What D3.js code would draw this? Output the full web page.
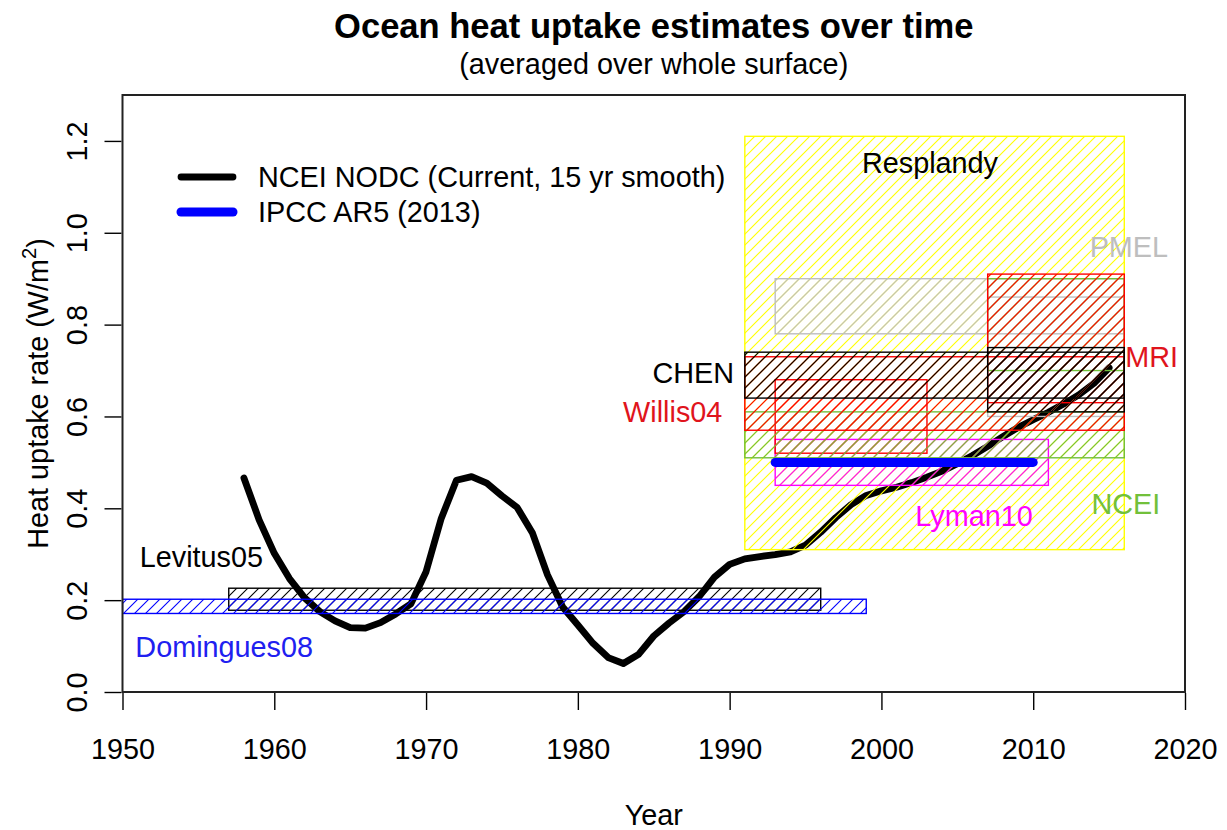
<!DOCTYPE html>
<html>
<head>
<meta charset="utf-8">
<script src="https://cdn.jsdelivr.net/npm/d3@7"></script>
<style>
  html, body { margin: 0; padding: 0; background: #fff; }
  svg { display: block; font-family: "Liberation Sans", Arial, Helvetica, sans-serif; }
</style>
</head>
<body>
<svg id="chart" width="1227" height="830"></svg>
<script>
// ---------------- data ----------------
const curveYears = [1958,1959,1960,1961,1962,1963,1964,1965,1966,1967,1968,1969,1970,1971,1972,1973,1974,1975,1976,1977,1978,1979,1980,1981,1982,1983,1984,1985,1986,1987,1988,1989,1990,1991,1992,1993,1994,1995,1996,1997,1998,1999,2000,2001,2002,2003,2004,2005,2006,2007,2008,2009,2010,2011,2012,2013,2014,2015];
const curveValues = [0.466,0.375,0.302,0.247,0.205,0.175,0.155,0.140,0.139,0.151,0.170,0.192,0.262,0.378,0.461,0.469,0.455,0.427,0.402,0.347,0.255,0.185,0.146,0.106,0.075,0.062,0.082,0.122,0.150,0.175,0.208,0.250,0.278,0.290,0.295,0.299,0.305,0.320,0.348,0.380,0.408,0.428,0.438,0.446,0.456,0.468,0.481,0.497,0.515,0.535,0.556,0.576,0.593,0.609,0.627,0.647,0.672,0.706];

// estimate boxes (drawn in this order)
const boxNames  = ["Resplandy","PMEL","PMEL","Lyman10","Willis04","NCEI","NCEI","MRI","MRI","CHEN","CHEN","Levitus05","Domingues08"];
const boxStart  = [1991,1993,2007,1993,1993,1991,2007,1991,2007,1991,2007,1957,1950];
const boxEnd    = [2016,2016,2016,2011,2003,2016,2016,2016,2016,2016,2016,1996,1999];
const boxLow    = [0.31,0.78,0.60,0.45,0.52,0.51,0.70,0.57,0.63,0.64,0.61,0.178,0.171];
const boxHigh   = [1.21,0.90,0.86,0.55,0.68,0.61,0.90,0.73,0.91,0.74,0.75,0.226,0.202];

// IPCC AR5 estimate
const ipccYears = [1993, 2010];
const ipccValue = 0.50;

// box labels (anchor in data units)
const labelNames = ["Resplandy","PMEL","MRI","CHEN","Willis04","NCEI","Lyman10","Levitus05","Domingues08"];
const labelYear  = [2003.2,2016.3,2017.8,1987.6,1986.25,2016.1,2006.1,1955.2,1956.7];
const labelValue = [1.152,0.97,0.73,0.695,0.61,0.41,0.385,0.294,0.098];

const xTicks = [1950,1960,1970,1980,1990,2000,2010,2020];
const yTicks = [0.0,0.2,0.4,0.6,0.8,1.0,1.2];
const legendLabels = ["NCEI NODC (Current, 15 yr smooth)", "IPCC AR5 (2013)"];

// ---------------- styles ----------------
const colorOf = {
  "Resplandy": "#ffff00",
  "PMEL": "#bebebe",
  "Lyman10": "#ff00ff",
  "Willis04": "#ff0000",
  "NCEI": "#72c03a",
  "MRI": "#ff0000",
  "CHEN": "#000000",
  "Levitus05": "#000000",
  "Domingues08": "#0000ff"
};
const textColorOf = Object.assign({}, colorOf, {
  "Resplandy": "#000000", "Willis04": "#e0141c", "MRI": "#e0141c", "Domingues08": "#2020f0"
});

const W = 1227, H = 830;
const margin = {left: 122.5, right: W - 1185, top: 95, bottom: H - 692};
const FS = 28.8;
const HATCH = 11;

const svg = d3.select("#chart");
const x = d3.scaleLinear().domain([1950, 2020]).range([margin.left, W - margin.right]);
const y = d3.scaleLinear().domain([0, 1.3]).range([H - margin.bottom, margin.top]);

const defs = svg.append("defs");
defs.append("clipPath").attr("id", "plotclip").append("rect")
  .attr("x", x(1950)).attr("y", y(1.3))
  .attr("width", x(2020) - x(1950)).attr("height", y(0) - y(1.3));

const uniqColors = Array.from(new Set(Object.values(colorOf)));
const patId = c => "hatch" + c.replace("#", "");
uniqColors.forEach(c => {
  const p = defs.append("pattern").attr("id", patId(c))
    .attr("patternUnits", "userSpaceOnUse")
    .attr("width", HATCH).attr("height", HATCH);
  p.append("path").attr("d", `M-2,2 L2,-2 M0,${HATCH} L${HATCH},0 M${HATCH-2},${HATCH+2} L${HATCH+2},${HATCH-2}`)
    .attr("stroke", c).attr("stroke-width", 1.1).attr("fill", "none");
});

const plot = svg.append("g").attr("clip-path", "url(#plotclip)");

// curve (drawn first, boxes hatch over it)
const line = d3.line().x(d => x(d[0])).y(d => y(d[1])).curve(d3.curveLinear);
plot.append("path")
  .datum(curveYears.map((yr, i) => [yr, curveValues[i]]))
  .attr("d", line)
  .attr("fill", "none").attr("stroke", "#000").attr("stroke-width", 6.8)
  .attr("stroke-linejoin", "round").attr("stroke-linecap", "round");

// boxes
boxNames.forEach((n, i) => {
  const c = colorOf[n];
  plot.append("rect")
    .attr("x", x(boxStart[i])).attr("y", y(boxHigh[i]))
    .attr("width", x(boxEnd[i]) - x(boxStart[i]))
    .attr("height", y(boxLow[i]) - y(boxHigh[i]))
    .attr("fill", `url(#${patId(c)})`)
    .attr("stroke", c).attr("stroke-width", 1.4);
});

// IPCC line
plot.append("line")
  .attr("x1", x(ipccYears[0])).attr("x2", x(ipccYears[1]))
  .attr("y1", y(ipccValue)).attr("y2", y(ipccValue))
  .attr("stroke", "#0000ff").attr("stroke-width", 9).attr("stroke-linecap", "round");

// labels
labelNames.forEach((n, i) => {
  svg.append("text")
    .attr("x", x(labelYear[i])).attr("y", y(labelValue[i]))
    .attr("dy", "0.36em").attr("text-anchor", "middle")
    .attr("font-size", FS).attr("fill", textColorOf[n])
    .text(n);
});

// axes
const xAxis = d3.axisBottom(x).tickValues(xTicks).tickFormat(d3.format("d")).tickSize(17).tickPadding(0);
const gx = svg.append("g").attr("transform", `translate(0,${y(0) + 1})`).call(xAxis);
gx.select(".domain").remove();
gx.selectAll(".tick line").attr("stroke", "#000").attr("stroke-width", 1.4);
gx.selectAll(".tick text").attr("font-size", FS).attr("fill", "#000")
  .attr("font-family", "Liberation Sans, Arial, sans-serif")
  .attr("y", 0).attr("dy", 0).attr("transform", "translate(0,66)");

const yAxis = d3.axisLeft(y).tickValues(yTicks).tickFormat(d3.format(".1f")).tickSize(17).tickPadding(0);
const gy = svg.append("g").attr("transform", `translate(${x(1950) - 1},0)`).call(yAxis);
gy.select(".domain").remove();
gy.selectAll(".tick line").attr("stroke", "#000").attr("stroke-width", 1.4);
gy.selectAll(".tick text").attr("font-size", FS).attr("fill", "#000")
  .attr("font-family", "Liberation Sans, Arial, sans-serif")
  .attr("x", 0).attr("dy", 0).attr("text-anchor", "middle")
  .attr("transform", "translate(-35,0) rotate(-90)");

// plot box
svg.append("rect")
  .attr("x", x(1950)).attr("y", y(1.3))
  .attr("width", x(2020) - x(1950)).attr("height", y(0) - y(1.3))
  .attr("fill", "none").attr("stroke", "#222").attr("stroke-width", 2);

// axis titles
svg.append("text").attr("x", (x(1950) + x(2020)) / 2).attr("y", 825)
  .attr("text-anchor", "middle").attr("font-size", FS).text("Year");

const yl = svg.append("text")
  .attr("transform", `translate(48,${(y(0) + y(1.3)) / 2}) rotate(-90)`)
  .attr("text-anchor", "middle").attr("font-size", FS);
yl.append("tspan").text("Heat uptake rate (W/m");
yl.append("tspan").attr("font-size", FS * 0.7).attr("dy", -12).text("2");
yl.append("tspan").attr("dy", 12).text(")");

// titles
svg.append("text").attr("x", (x(1950) + x(2020)) / 2).attr("y", 38)
  .attr("text-anchor", "middle").attr("font-size", FS * 1.2).attr("font-weight", "bold")
  .text("Ocean heat uptake estimates over time");
svg.append("text").attr("x", (x(1950) + x(2020)) / 2).attr("y", 74)
  .attr("text-anchor", "middle").attr("font-size", FS)
  .text("(averaged over whole surface)");

// legend
const legendColors = ["#000000", "#0000ff"];
const legendWidths = [6.8, 9];
legendLabels.forEach((t, i) => {
  const ly = 177 + i * 35;
  svg.append("line").attr("x1", 181).attr("x2", 233).attr("y1", ly).attr("y2", ly)
    .attr("stroke", legendColors[i]).attr("stroke-width", legendWidths[i]).attr("stroke-linecap", "round");
  svg.append("text").attr("x", 258).attr("y", ly).attr("dy", "0.36em")
    .attr("font-size", FS).attr("fill", "#000").text(t);
});
</script>
</body>
</html>
